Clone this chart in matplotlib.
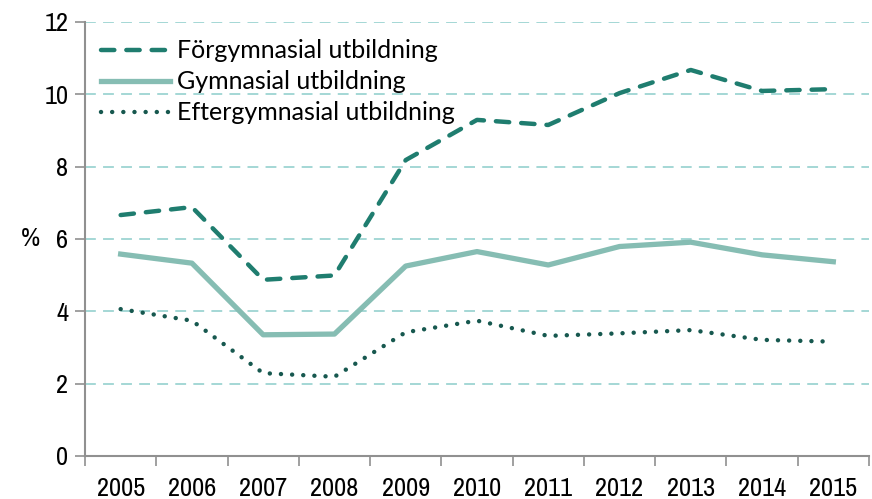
import numpy as np
import matplotlib.pyplot as plt
from matplotlib import font_manager

# Data
years = ['2005', '2006', '2007', '2008', '2009', '2010', '2011', '2012', '2013', '2014', '2015']
forgymnasial = [6.66, 6.88, 4.87, 4.99, 8.18, 9.29, 9.15, 10.03, 10.67, 10.09, 10.14]
gymnasial = [5.58, 5.33, 3.35, 3.37, 5.25, 5.65, 5.28, 5.79, 5.91, 5.56, 5.37]
eftergymnasial = [4.06, 3.74, 2.29, 2.19, 3.42, 3.74, 3.32, 3.39, 3.48, 3.21, 3.16]
labels = ['Förgymnasial utbildning', 'Gymnasial utbildning', 'Eftergymnasial utbildning']

# narrow font for the axis numbers if one is around
narrow = None
for f in font_manager.fontManager.ttflist:
    if ('Narrow' in f.name or 'Condensed' in f.name) and f.weight in (400, 'normal') \
            and f.style == 'normal':
        narrow = f.name
        break
if narrow is None:
    narrow = 'DejaVu Sans'
tick_font = {'family': narrow, 'size': 19, 'weight': 'normal'}

fig = plt.figure(figsize=(8.72, 4.99), dpi=100)
ax = fig.add_axes([0.0975, 0.0862, 0.899, 0.87])

x = np.arange(len(years))

# Gridlines
for g in range(2, 13, 2):
    ax.axhline(g, color='#9dd4d2', lw=1.3, dashes=(6, 4), zorder=1)

ax.plot(x, forgymnasial, color='#1f7d6f', lw=3.2, dashes=(3.0, 2.7),
        dash_capstyle='round', solid_joinstyle='round', label=labels[0], zorder=3)
ax.plot(x, gymnasial, color='#86bdb3', lw=3.8, solid_joinstyle='round',
        label=labels[1], zorder=2)
ax.plot(x, eftergymnasial, color='#17584f', lw=3.2, dashes=(0.01, 2.5),
        dash_capstyle='round', label=labels[2], zorder=3)

ax.set_xlim(-0.5, len(years) - 0.5)
ax.set_ylim(0, 12)
ax.set_yticks(range(0, 13, 2))
ax.set_yticklabels([str(v) for v in range(0, 13, 2)], fontdict=tick_font)
ax.set_xticks(x)
ax.set_xticklabels(years, fontdict=tick_font)
ax.set_xticks(np.arange(-0.5, len(years), 1), minor=True)
ax.tick_params(axis='x', which='major', length=0, pad=15)
ax.tick_params(axis='x', which='minor', length=7, color='#909090', width=1.2)
ax.tick_params(axis='y', length=7, color='#909090', width=1.2, pad=5)

for s in ['top', 'right']:
    ax.spines[s].set_visible(False)
for s in ['left', 'bottom']:
    ax.spines[s].set_color('#909090')
    ax.spines[s].set_linewidth(1.5)

ax.set_ylabel('%', rotation=0, fontsize=19, labelpad=10, va='center', family=narrow)

leg = ax.legend(loc='upper left', bbox_to_anchor=(-0.002, 1.0), frameon=False,
                handlelength=2.75, handletextpad=0.3, labelspacing=0.32,
                borderaxespad=0.3, prop={'family': 'Lato', 'size': 18})

fig.savefig('out.png', dpi=100)
